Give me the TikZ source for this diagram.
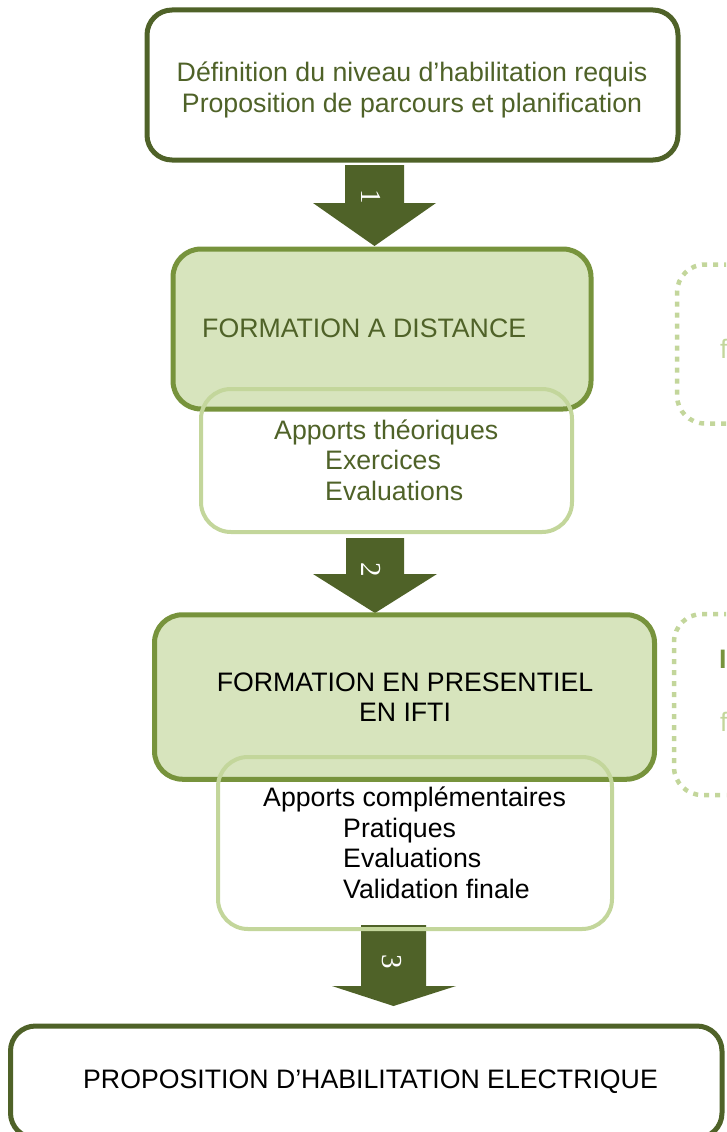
\documentclass[tikz,border=0pt]{standalone}
\usepackage{fontspec}
\setmainfont{Liberation Sans}
\newfontfamily\numfont{Liberation Serif}
\usetikzlibrary{positioning}

\definecolor{darkolive}{HTML}{4F6228}
\definecolor{midolive}{HTML}{77933C}
\definecolor{paleolive}{HTML}{D7E4BD}
\definecolor{lightolive}{HTML}{C3D69B}

\begin{document}
\begin{tikzpicture}
            [
                x = 1pt,
                y = -1pt,
                mainbox/.style={
                    draw = darkolive,
                    line width = 5pt,
                    rounded corners = 25pt,
                    fill = white
                },
                stagebox/.style={
                    draw = midolive,
                    line width = 5pt,
                    rounded corners = 28pt,
                    fill = paleolive
                },
                detailbox/.style={
                    draw = lightolive,
                    line width = 4pt,
                    rounded corners = 30pt
                },
                notebox/.style={
                    draw = lightolive,
                    line width = 4.5pt,
                    dash pattern = on 5pt off 6pt,
                    rounded corners = 28pt
                },
                bodytext/.style={
                    inner sep = 0pt,
                    font = \fontsize{26.7}{30.5}\selectfont
                },
                arrownum/.style={
                    text = white,
                    rotate = -90,
                    inner sep = 0pt,
                    font = \numfont\fontsize{29}{29}\selectfont
                },
            ]

                \useasboundingbox (0,0) rectangle (726,1132);
                \clip (0,0) rectangle (726,1132);

                % arrows between the stages
                \fill[darkolive] (345,165) -- (404,165) -- (404,203) -- (436,203)
                    -- (374.5,246) -- (313,203) -- (345,203) -- cycle;
                \fill[darkolive] (346,538) -- (404,538) -- (404,574) -- (437,574)
                    -- (375,613) -- (313,574) -- (346,574) -- cycle;
                \fill[darkolive] (361,925) -- (426,925) -- (426,986) -- (456,986)
                    -- (393.5,1006) -- (332,986) -- (361,986) -- cycle;

                \node[arrownum] (num1) at (371,197) {1};
                \node[arrownum] (num2) at (371,570) {2};
                \node[arrownum] (num3) at (392,962) {3};

                % boxes
                \node[mainbox, minimum width = 531pt, minimum height = 150pt]
                    (plan) at (412.5,85) {};
                \node[bodytext, text = darkolive, align = center, anchor = north]
                    (plantext) at (412,62)
                    {Définition du niveau d’habilitation requis\\Proposition de parcours et planification};

                \node[stagebox, minimum width = 418pt, minimum height = 160pt]
                    (distance) at (382,329) {};
                \node[bodytext, text = darkolive, anchor = west]
                    (distancetext) at (202,328.5) {FORMATION A DISTANCE};
                \node[detailbox, minimum width = 371pt, minimum height = 143pt]
                    (distdetail) at (386.5,460.5) {};
                \node[bodytext, text = darkolive, align = left, anchor = north west]
                    (distdetailtext) at (274,419.5)
                    {Apports théoriques\\\hspace*{51pt}Exercices\\\hspace*{51pt}Evaluations};

                \node[stagebox, minimum width = 500pt, minimum height = 164.5pt]
                    (presentiel) at (404.5,697) {};
                \node[bodytext, align = center, anchor = north]
                    (presentieltext) at (405,672.5)
                    {FORMATION EN PRESENTIEL\\EN IFTI};
                \node[detailbox, minimum width = 394pt, minimum height = 172pt]
                    (presdetail) at (415,843) {};
                \node[bodytext, align = left, anchor = north west]
                    (presdetailtext) at (263,787)
                    {Apports complémentaires\\\hspace*{80pt}Pratiques\\\hspace*{80pt}Evaluations\\\hspace*{80pt}Validation finale};

                \node[mainbox, minimum width = 711.5pt, minimum height = 112pt]
                    (habilit) at (366.25,1082) {};
                \node[bodytext] (habilittext) at (370.5,1082)
                    {PROPOSITION D’HABILITATION ELECTRIQUE};

                % notes on the right, cut by the page
                \node[notebox, minimum width = 223pt, minimum height = 159pt]
                    (notedistance) at (788.5,344) {};
                \node[bodytext, text = lightolive, anchor = base west]
                    (notedistancetext) at (720,358) {f};
                \node[notebox, minimum width = 226pt, minimum height = 181pt]
                    (notepresentiel) at (787,704.5) {};
                \node[bodytext, text = midolive, anchor = base west, font = \bfseries\fontsize{26.7}{30.5}\selectfont]
                    (notepresentieltitle) at (719,668) {I};
                \node[bodytext, text = lightolive, anchor = base west]
                    (notepresentieltext) at (720,731) {f};
            \end{tikzpicture}
\end{document}
